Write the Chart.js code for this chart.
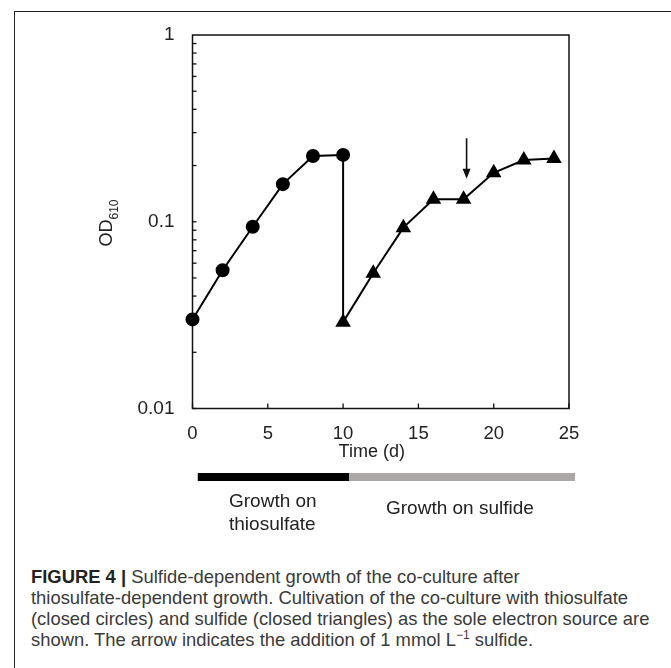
<!DOCTYPE html>
<html>
<head>
<meta charset="utf-8">
<script src="https://cdn.jsdelivr.net/npm/chart.js@4.4.1/dist/chart.umd.min.js"></script>
<style>
  body { margin: 0; background: #fff; width: 671px; height: 668px; overflow: hidden; position: relative;
         font-family: "Liberation Sans", Arial, sans-serif; }
  .frame { position: absolute; left: 14px; top: 11px; width: 700px; height: 700px;
           border-left: 1px solid #222; border-top: 1px solid #222; }
  #wrap { position: absolute; left: 0; top: 0; width: 671px; height: 490px; }
  .lbl { position: absolute; font-size: 19px; line-height: 23px; color: #222; white-space: nowrap; }
  .caption { position: absolute; left: 31px; top: 566px; font-size: 18.4px; line-height: 21px;
             color: #3a3a3a; white-space: nowrap; }
  .caption b { color: #222; }
</style>
</head>
<body>
<div class="frame"></div>
<div id="wrap"><canvas id="chart"></canvas></div>
<div class="lbl" style="left:229px; top:489px;">Growth on<br>thiosulfate</div>
<div class="lbl" style="left:386px; top:496px;">Growth on sulfide</div>
<div class="caption"><b>FIGURE 4 |</b> Sulfide-dependent growth of the co-culture after<br>thiosulfate-dependent growth. Cultivation of the co-culture with thiosulfate<br>(closed circles) and sulfide (closed triangles) as the sole electron source are<br>shown. The arrow indicates the addition of 1 mmol L<sup style="font-size:12px;line-height:0">&minus;1</sup> sulfide.</div>

<script>
// Data (OD610 vs time in days)
const thioDays = [0, 2, 4, 6, 8, 10];
const thioOD = [0.030, 0.055, 0.094, 0.159, 0.225, 0.228];
const sulfDays = [10, 12, 14, 16, 18, 20, 22, 24];
const sulfOD = [0.029, 0.053, 0.093, 0.132, 0.132, 0.183, 0.214, 0.218];

// Axis ticks
const xTicks = [0, 5, 10, 15, 20, 25];
const yTicks = [0.01, 0.1, 1];

// Arrow marking sulfide addition
const arrowDay = 18.2;
const arrowTop = 0.28;
const arrowTip = 0.17;

// Growth phase bar under the x axis (days)
const phaseStart = [0.35, 10.4];
const phaseEnd = [10.4, 25.4];

const FONT = "Liberation Sans, Arial, sans-serif";

function pts(xs, ys) {
  return xs.map((x, i) => ({ x: x, y: ys[i] }));
}

// Box, ticks, arrow, titles and phase bar
const extras = {
  id: "extras",
  beforeDatasetsDraw(chart) {
    const ctx = chart.ctx;
    const a = chart.chartArea;
    const xs = chart.scales.x;
    const ys = chart.scales.y;
    ctx.save();
    ctx.strokeStyle = "#111";
    ctx.lineWidth = 1.5;
    ctx.strokeRect(a.left, a.top, a.right - a.left, a.bottom - a.top);

    // x ticks pointing inward
    ctx.lineWidth = 1.3;
    xTicks.forEach((v) => {
      const px = xs.getPixelForValue(v);
      ctx.beginPath();
      ctx.moveTo(px, a.bottom);
      ctx.lineTo(px, a.bottom - 5);
      ctx.stroke();
    });
    // y minor ticks pointing inward
    for (let d = 0.01; d < 1; d *= 10) {
      for (let m = 1; m <= 9; m++) {
        const py = ys.getPixelForValue(d * m);
        ctx.beginPath();
        ctx.moveTo(a.left, py);
        ctx.lineTo(a.left + 4, py);
        ctx.stroke();
      }
    }

    // phase bar
    const barTop = 473, barH = 8;
    const cols = ["#000", "#aba7a7"];
    phaseStart.forEach((s, i) => {
      const x0 = xs.getPixelForValue(s);
      const x1 = xs.getPixelForValue(phaseEnd[i]);
      ctx.fillStyle = cols[i];
      ctx.fillRect(x0, barTop, x1 - x0, barH);
    });

    // x title
    ctx.fillStyle = "#222";
    ctx.font = "18px " + FONT;
    ctx.textAlign = "center";
    ctx.textBaseline = "middle";
    ctx.fillText("Time (d)", (a.left + a.right) / 2 - 9, 452);

    // y title OD610 with subscript
    ctx.translate(109, 223);
    ctx.rotate(-Math.PI / 2);
    ctx.font = "18px " + FONT;
    const w1 = ctx.measureText("OD").width;
    ctx.font = "12px " + FONT;
    const w2 = ctx.measureText("610").width;
    const start = -(w1 + w2) / 2;
    ctx.textAlign = "left";
    ctx.textBaseline = "alphabetic";
    ctx.font = "18px " + FONT;
    ctx.fillText("OD", start, 3);
    ctx.font = "12px " + FONT;
    ctx.fillText("610", start + w1, 9);
    ctx.restore();
  },
  afterDatasetsDraw(chart) {
    const ctx = chart.ctx;
    const px = chart.scales.x.getPixelForValue(arrowDay);
    const y0 = chart.scales.y.getPixelForValue(arrowTop);
    const y1 = chart.scales.y.getPixelForValue(arrowTip);
    ctx.save();
    ctx.strokeStyle = "#111";
    ctx.fillStyle = "#111";
    ctx.lineWidth = 1.6;
    ctx.beginPath();
    ctx.moveTo(px, y0);
    ctx.lineTo(px, y1 - 8);
    ctx.stroke();
    ctx.beginPath();
    ctx.moveTo(px - 4, y1 - 10);
    ctx.lineTo(px + 4, y1 - 10);
    ctx.lineTo(px, y1);
    ctx.closePath();
    ctx.fill();
    ctx.restore();
  }
};

new Chart(document.getElementById("chart"), {
  type: "line",
  data: {
    datasets: [
      {
        label: "Thiosulfate",
        data: pts(thioDays, thioOD),
        borderColor: "#000",
        backgroundColor: "#000",
        borderWidth: 2,
        pointStyle: "circle",
        pointRadius: 6,
        clip: false
      },
      {
        label: "Switch",
        data: [
          { x: thioDays[thioDays.length - 1], y: thioOD[thioOD.length - 1] },
          { x: sulfDays[0], y: sulfOD[0] }
        ],
        borderColor: "#000",
        borderWidth: 2,
        pointRadius: 0,
        clip: false
      },
      {
        label: "Sulfide",
        data: pts(sulfDays, sulfOD),
        borderColor: "#000",
        backgroundColor: "#000",
        borderWidth: 2,
        pointStyle: "triangle",
        pointRadius: 7,
        clip: false
      }
    ]
  },
  options: {
    responsive: true,
    maintainAspectRatio: false,
    animation: false,
    layout: { padding: { left: 0, top: 35, right: 102, bottom: 0 } },
    plugins: { legend: { display: false }, tooltip: { enabled: false } },
    scales: {
      x: {
        type: "linear",
        min: 0,
        max: 25,
        afterBuildTicks: (s) => { s.ticks = xTicks.map((v) => ({ value: v })); },
        afterFit: (s) => { s.height = 81.5; },
        grid: { display: false, drawTicks: false },
        border: { display: false },
        ticks: { padding: 14, color: "#222", font: { family: FONT, size: 18.5 } }
      },
      y: {
        type: "logarithmic",
        min: 0.01,
        max: 1,
        afterBuildTicks: (s) => { s.ticks = yTicks.map((v) => ({ value: v })); },
        afterFit: (s) => { s.width = 192.5; },
        grid: { display: false, drawTicks: false },
        border: { display: false },
        ticks: {
          padding: 18,
          color: "#222",
          font: { family: FONT, size: 19 },
          callback: (v) => String(v)
        }
      }
    }
  },
  plugins: [extras]
});
</script>
</body>
</html>
